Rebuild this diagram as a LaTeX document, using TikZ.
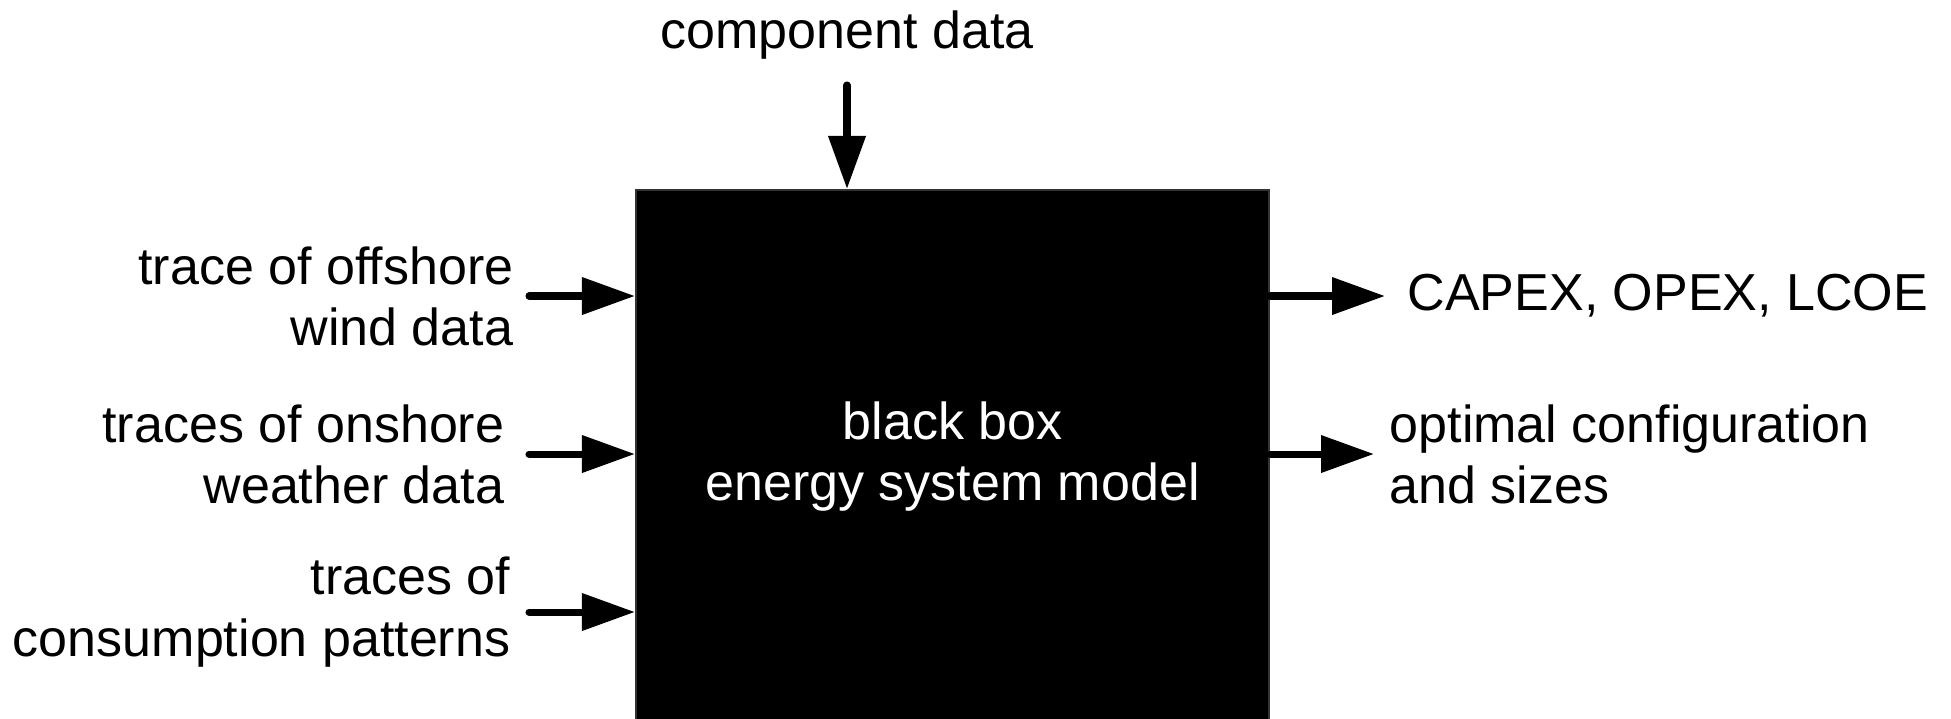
\documentclass[tikz,border=0pt]{standalone}
\usepackage{fontspec}
\setmainfont{Liberation Sans}
\usetikzlibrary{arrows.meta,positioning}

\begin{document}
\begin{tikzpicture}[font=\fontsize{14.8pt}{17.4pt}\selectfont,
    flow/.style={line width=2pt, line cap=round, -{Triangle[length=5.3mm,width=3.6mm]}},
    lbl/.style={inner sep=0pt}]
    \useasboundingbox (0,0) rectangle (19.51,-7.18);

    % Black box
    \node[draw=black!80, line width=0.6pt, fill=black, text=white, align=center,
          minimum width=6.33cm, minimum height=5.33cm] (model) at (9.525,-4.565)
          {black box\\energy system model};

    % Component data from above
    \coordinate (cdat) at (8.47,-0.85);
    \node[lbl, above=2.5mm of cdat] (cdatlbl) {component data};
    \draw[flow] (cdat) -- (cdat |- model.north);

    % Inputs (left)
    \coordinate (in1) at (5.29,-2.96);
    \coordinate (in2) at (5.29,-4.54);
    \coordinate (in3) at (5.29,-6.12);
    \node[lbl, align=right, left=1.5mm of in1] (offshore) {trace of offshore\\wind data};
    \node[lbl, align=right, left=2.4mm of in2] (onshore) {traces of onshore\\weather data};
    \node[lbl, align=right, left=1.8mm of in3] (consumption) {traces of\\consumption patterns};
    \draw[flow] (in1) -- (in1 -| model.west);
    \draw[flow] (in2) -- (in2 -| model.west);
    \draw[flow] (in3) -- (in3 -| model.west);

    % Results (right)
    \coordinate (res1) at (13.85,-2.96);
    \coordinate (res2) at (13.74,-4.54);
    \draw[flow] (res1 -| model.east) -- (res1);
    \draw[flow] (res2 -| model.east) -- (res2);
    \node[lbl, right=2.2mm of res1] (costs) {CAPEX, OPEX, LCOE};
    \node[lbl, align=left, right=1.5mm of res2] (config) {optimal configuration\\and sizes};
\end{tikzpicture}
\end{document}
